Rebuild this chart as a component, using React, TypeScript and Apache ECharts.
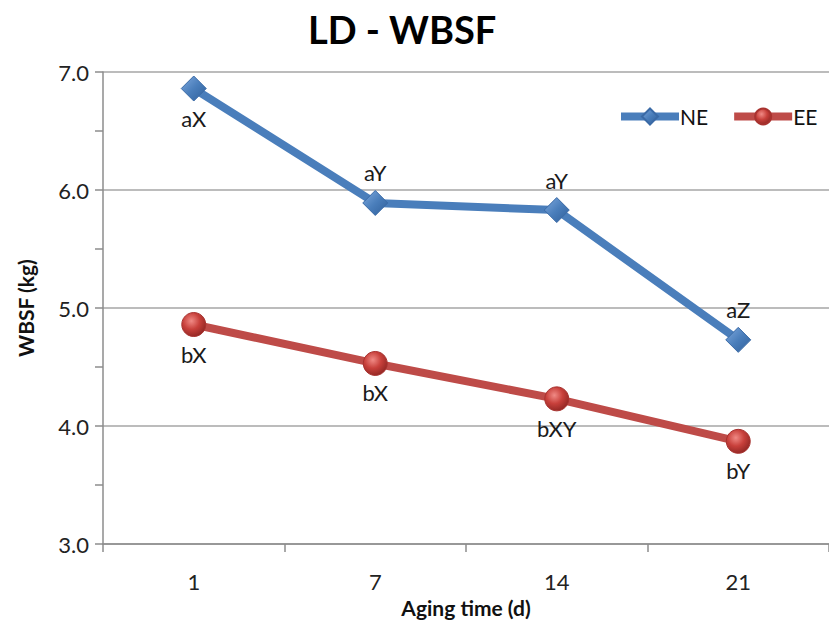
import React, { useEffect, useRef } from "react";
import * as echarts from "echarts";

const CATEGORIES = ["1", "7", "14", "21"];
const NE_VALUES = [6.86, 5.89, 5.83, 4.73];
const EE_VALUES = [4.86, 4.53, 4.23, 3.87];
const NE_LABELS = ["aX", "aY", "aY", "aZ"];
const EE_LABELS = ["bX", "bX", "bXY", "bY"];
const NE_LABEL_POS = ["bottom", "top", "top", "top"];
const EE_LABEL_POS = ["bottom", "bottom", "bottom", "bottom"];

const FONT = "Lato, 'Open Sans', sans-serif";
const BLUE = "#4A7EBB";
const RED = "#BE4B48";

export default function App() {
  const ref = useRef<HTMLDivElement>(null);
  useEffect(() => {
    if (!ref.current) return;
    const chart = echarts.init(ref.current, null, { renderer: "svg" });
    const diamondFill = new echarts.graphic.LinearGradient(0, 0, 1, 1, [
      { offset: 0, color: "#7FA9DE" },
      { offset: 0.5, color: "#4A7EBB" },
      { offset: 1, color: "#2F5F9A" },
    ]);
    const circleFill = new echarts.graphic.RadialGradient(0.4, 0.35, 0.7, [
      { offset: 0, color: "#F08A85" },
      { offset: 0.5, color: "#C8403B" },
      { offset: 1, color: "#8E2522" },
    ]);
    const labelStyle = {
      show: true,
      fontFamily: FONT,
      fontSize: 22,
      color: "#1a1a1a",
      distance: 6,
    };
    chart.setOption({
      animation: false,
      backgroundColor: "#ffffff",
      title: {
        text: "LD - WBSF",
        left: 303,
        top: 5,
        textStyle: {
          fontFamily: FONT,
          fontWeight: "bold",
          fontSize: 38,
          color: "#000",
        },
      },
      legend: {
        left: 612,
        top: 101,
        itemWidth: 58,
        itemHeight: 20,
        itemGap: 22,
        lineStyle: { width: 8 },
        textStyle: { fontFamily: FONT, fontSize: 21, color: "#111", padding: [0, 0, 0, -4] },
        data: ["NE", "EE"],
      },
      grid: { left: 103, top: 72, width: 732, height: 472, containLabel: false },
      xAxis: {
        type: "category",
        data: CATEGORIES,
        boundaryGap: true,
        name: "Aging time (d)",
        nameLocation: "middle",
        nameGap: 52,
        nameTextStyle: { fontFamily: FONT, fontWeight: "bold", fontSize: 21, color: "#111" },
        axisLine: { lineStyle: { color: "#8c8c8c", width: 1.5 } },
        axisTick: { show: true, length: 8, lineStyle: { color: "#8c8c8c", width: 1.5 } },
        axisLabel: { fontFamily: FONT, fontSize: 22, color: "#222", margin: 26 },
      },
      yAxis: {
        type: "value",
        min: 3,
        max: 7,
        interval: 1,
        name: "WBSF (kg)",
        nameLocation: "middle",
        nameGap: 67,
        nameRotate: 90,
        nameTextStyle: { fontFamily: FONT, fontWeight: "bold", fontSize: 21, color: "#111" },
        axisLine: { show: true, lineStyle: { color: "#8c8c8c", width: 1.5 } },
        axisTick: { show: true, length: 8, lineStyle: { color: "#8c8c8c", width: 1.5 } },
        minorTick: { show: true, splitNumber: 2, length: 8, lineStyle: { color: "#8c8c8c", width: 1.5 } },
        axisLabel: {
          fontFamily: FONT,
          fontSize: 22,
          color: "#222",
          margin: 14,
          formatter: (v: number) => v.toFixed(1),
        },
        splitLine: { show: true, lineStyle: { color: "#a6a6a6", width: 1.5 } },
      },
      series: [
        {
          name: "NE",
          type: "line",
          symbol: "diamond",
          symbolSize: 25,
          lineStyle: { color: BLUE, width: 8 },
          itemStyle: { color: diamondFill, borderColor: "#3A6AA6", borderWidth: 1 },
          z: 3,
          data: NE_VALUES.map((v, i) => ({
            value: v,
            label: { ...labelStyle, position: NE_LABEL_POS[i], formatter: NE_LABELS[i] },
          })),
        },
        {
          name: "EE",
          type: "line",
          symbol: "circle",
          symbolSize: 24,
          lineStyle: { color: RED, width: 8 },
          itemStyle: { color: circleFill, borderColor: "#A8322F", borderWidth: 1 },
          z: 2,
          data: EE_VALUES.map((v, i) => ({
            value: v,
            label: { ...labelStyle, position: EE_LABEL_POS[i], formatter: EE_LABELS[i] },
          })),
        },
      ],
    });
    return () => chart.dispose();
  }, []);
  return (
    <div
      ref={ref}
      style={{ position: "fixed", left: 0, top: 0, width: 829, height: 637, background: "#fff" }}
    />
  );
}
